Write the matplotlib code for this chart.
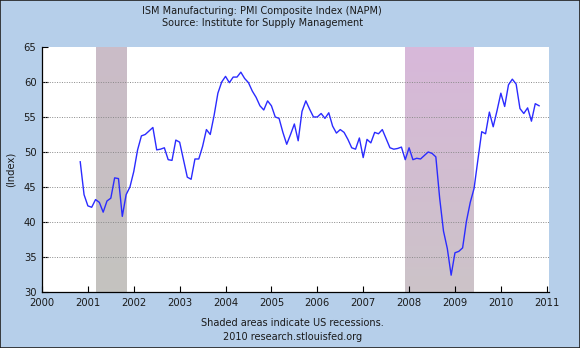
import matplotlib
matplotlib.use("Agg")
import matplotlib.pyplot as plt
import numpy as np
import pandas as pd
from matplotlib.colors import LinearSegmentedColormap

# ISM PMI, monthly, Nov 2000 - Nov 2010
start_month = "2000-11"
pmi = [
    48.6, 43.9,
    42.3, 42.1, 43.2, 42.8, 41.4, 43.0, 43.4, 46.3, 46.2, 40.8, 43.9, 45.0,
    47.2, 50.3, 52.3, 52.5, 53.0, 53.5, 50.3, 50.4, 50.6, 48.9, 48.8, 51.7,
    51.4, 48.9, 46.4, 46.1, 49.0, 49.0, 50.8, 53.2, 52.5, 55.2, 58.4, 60.0,
    60.8, 59.9, 60.7, 60.7, 61.4, 60.5, 59.9, 58.7, 57.8, 56.6, 56.0, 57.3,
    56.6, 55.0, 54.8, 52.8, 51.1, 52.5, 54.0, 51.6, 55.8, 57.3, 56.1, 55.0,
    55.0, 55.5, 54.8, 55.6, 53.7, 52.7, 53.2, 52.8, 51.8, 50.6, 50.4, 52.0,
    49.2, 51.8, 51.3, 52.8, 52.6, 53.2, 51.9, 50.6, 50.4, 50.5, 50.7, 48.9,
    50.6, 48.9, 49.1, 49.0, 49.5, 50.0, 49.8, 49.3, 43.4, 38.7, 36.2, 32.4,
    35.6, 35.8, 36.3, 40.1, 42.8, 44.8, 48.9, 52.9, 52.6, 55.7, 53.6, 55.9,
    58.4, 56.5, 59.6, 60.4, 59.7, 56.2, 55.5, 56.3, 54.4, 56.9, 56.6,
]

recession_starts = ["2001-03", "2007-12"]
recession_ends = ["2001-11", "2009-06"]
# shading goes from a pinkish top to a greyish-green bottom
recession_top = ["#cbbcc8", "#d8b8da"]
recession_bottom = ["#c4c3bf", "#ccc3c8"]

year_ticks = list(range(2000, 2012))
y_ticks = [30, 35, 40, 45, 50, 55, 60, 65]


def to_year(d):
    d = pd.Timestamp(d)
    return d.year + (d.month - 1) / 12.0


dates = pd.date_range(start_month, periods=len(pmi), freq="MS")
x = np.array([to_year(d) for d in dates])

fig = plt.figure(figsize=(5.8, 3.48), dpi=100, facecolor="#b6cfea")
ax = fig.add_axes([0.0724, 0.161, 0.8742, 0.704])
ax.set_facecolor("white")

ylo, yhi = 30, 65
grad = np.linspace(1, 0, 64).reshape(-1, 1)
for s, e, ct, cb in zip(recession_starts, recession_ends, recession_top, recession_bottom):
    cmap = LinearSegmentedColormap.from_list("rec", [cb, ct])
    ax.imshow(grad, cmap=cmap, aspect="auto", origin="upper",
              extent=(to_year(s), to_year(e), ylo, yhi), zorder=1,
              interpolation="bilinear")

for v in y_ticks[1:-1]:
    ax.axhline(v, color="#8a8a8a", lw=0.7, ls=(0, (1, 1.5)), zorder=2)

ax.plot(x, pmi, color="#2b2bff", lw=1.0, zorder=3)

ax.set_xlim(2000, 2011.05)
ax.set_ylim(ylo, yhi)
ax.set_xticks(year_ticks)
ax.set_xticklabels([str(y) for y in year_ticks])
ax.set_yticks(y_ticks)
ax.tick_params(axis="both", direction="in", length=4, width=0.8,
               labelsize=7.2, colors="black", labelcolor="#1a1a1a", pad=4)
for side in ["top", "right"]:
    ax.spines[side].set_visible(False)
for side in ["left", "bottom"]:
    ax.spines[side].set_linewidth(0.9)

ax.set_ylabel("(Index)", fontsize=7.2, color="#1a1a1a", labelpad=6)

fig.text(0.452, 0.968, "ISM Manufacturing: PMI Composite Index (NAPM)",
         ha="center", va="center", fontsize=7, color="#1a1a1a")
fig.text(0.452, 0.934, "Source: Institute for Supply Management",
         ha="center", va="center", fontsize=7, color="#1a1a1a")
fig.text(0.504, 0.072, "Shaded areas indicate US recessions.",
         ha="center", va="center", fontsize=7, color="#1a1a1a")
fig.text(0.504, 0.031, "2010 research.stlouisfed.org",
         ha="center", va="center", fontsize=7, color="#1a1a1a")

fig.patches.append(plt.Rectangle((0, 0), 1, 1, transform=fig.transFigure,
                                 fill=False, ec="#202020", lw=1.2))

fig.savefig("out.png", dpi=100, facecolor=fig.get_facecolor())
